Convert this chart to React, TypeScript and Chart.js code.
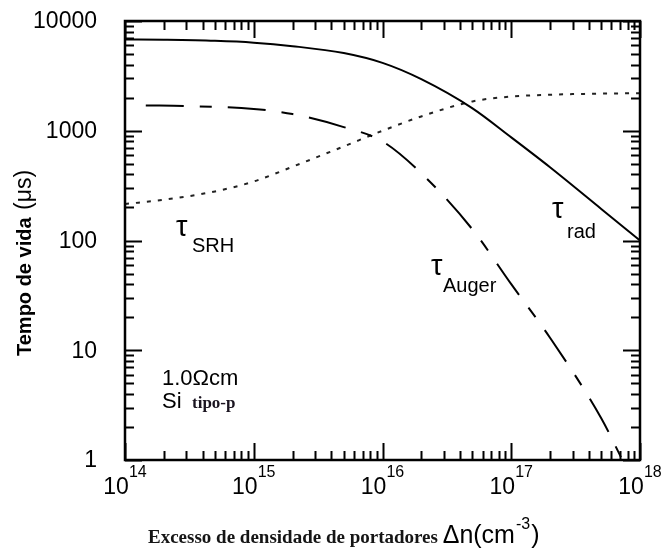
import React, { useEffect, useRef } from "react";
import { Chart, registerables } from "chart.js";

Chart.register(...registerables);

// ---- data ----
const radX = [1e14, 2e14, 5e14, 1e15, 2e15, 5e15, 1e16, 2e16, 5e16, 1e17, 2e17, 5e17, 1e18];
const radY = [6800, 6750, 6600, 6350, 5900, 5100, 4150, 2950, 1600, 870, 465, 194, 100];

const augerX = [1.45e14, 3e14, 1e15, 2e15, 5e15, 1e16, 2e16, 5e16, 1e17, 2e17, 5e17, 7.3e17];
const augerY = [1700, 1680, 1580, 1420, 1080, 800, 410, 126, 40, 13, 2.4, 1];

const srhX = [1e14, 2e14, 5e14, 1e15, 2e15, 5e15, 1e16, 2e16, 5e16, 1e17, 2e17, 5e17, 1e18];
const srhY = [215, 235, 280, 345, 470, 720, 1000, 1350, 1850, 2050, 2130, 2180, 2200];

const yTickValues = [1, 10, 100, 1000, 10000];
const yTickLabels = ["1", "10", "100", "1000", "10000"];
const xTickValues = [1e14, 1e15, 1e16, 1e17, 1e18];
const xTickBase = "10";
const xTickExponents = ["14", "15", "16", "17", "18"];
const minorMultipliers = [2, 3, 4, 5, 6, 7, 8, 9];

const yTitleBold = "Tempo de vida";
const yTitleUnit = "(\u03bcs)";
const xTitleBold = "Excesso de densidade de portadores";
const xTitleUnit = "\u0394n(cm";
const xTitleExp = "-3";
const xTitleClose = ")";

const labelSRH = "SRH";
const labelRad = "rad";
const labelAuger = "Auger";
const tau = "\u03c4";
const noteResist = "1.0\u03a9cm";
const noteSi = "Si";
const noteType = "tipo-p";

const SANS = '"Liberation Sans", Arial, Helvetica, sans-serif';
const SERIF = '"Liberation Serif", "Times New Roman", serif';

const decoPlugin = {
  id: "deco",
  afterDatasetsDraw(chart: any) {
    const ctx = chart.ctx as CanvasRenderingContext2D;
    const xs = chart.scales.x;
    const ys = chart.scales.y;
    const { left, right, top, bottom } = chart.chartArea;
    ctx.save();
    ctx.strokeStyle = "#000";
    ctx.fillStyle = "#000";

    // ticks (inside, mirrored on all sides)
    ctx.lineWidth = 2;
    const major = 17;
    const minor = 9;
    ctx.beginPath();
    for (let i = 0; i < xTickValues.length; i++) {
      const v = xTickValues[i];
      const px = Math.round(xs.getPixelForValue(v)) + 0.5;
      ctx.moveTo(px, bottom);
      ctx.lineTo(px, bottom - major);
      ctx.moveTo(px, top);
      ctx.lineTo(px, top + major);
      if (i < xTickValues.length - 1) {
        for (const m of minorMultipliers) {
          const q = Math.round(xs.getPixelForValue(v * m)) + 0.5;
          ctx.moveTo(q, bottom);
          ctx.lineTo(q, bottom - minor);
          ctx.moveTo(q, top);
          ctx.lineTo(q, top + minor);
        }
      }
    }
    for (let i = 0; i < yTickValues.length; i++) {
      const v = yTickValues[i];
      const py = Math.round(ys.getPixelForValue(v)) + 0.5;
      ctx.moveTo(left, py);
      ctx.lineTo(left + major, py);
      ctx.moveTo(right, py);
      ctx.lineTo(right - major, py);
      if (i < yTickValues.length - 1) {
        for (const m of minorMultipliers) {
          const q = Math.round(ys.getPixelForValue(v * m)) + 0.5;
          ctx.moveTo(left, q);
          ctx.lineTo(left + minor, q);
          ctx.moveTo(right, q);
          ctx.lineTo(right - minor, q);
        }
      }
    }
    ctx.stroke();

    // frame
    ctx.lineWidth = 2.5;
    ctx.strokeRect(left, top, right - left, bottom - top);

    // y tick labels
    ctx.font = `23px ${SANS}`;
    ctx.textAlign = "right";
    ctx.textBaseline = "middle";
    yTickValues.forEach((v, i) => {
      ctx.fillText(yTickLabels[i], left - 28, ys.getPixelForValue(v) + 1);
    });

    // x tick labels 10^n
    ctx.textAlign = "left";
    ctx.textBaseline = "alphabetic";
    xTickValues.forEach((v, i) => {
      ctx.font = `23px ${SANS}`;
      const wb = ctx.measureText(xTickBase).width;
      ctx.font = `16px ${SANS}`;
      const we = ctx.measureText(xTickExponents[i]).width;
      const x0 = xs.getPixelForValue(v) - (wb + we) / 2;
      ctx.font = `23px ${SANS}`;
      ctx.fillText(xTickBase, x0, 494);
      ctx.font = `16px ${SANS}`;
      ctx.fillText(xTickExponents[i], x0 + wb, 477);
    });

    // y title (rotated)
    ctx.save();
    ctx.translate(31, 356);
    ctx.rotate(-Math.PI / 2);
    ctx.font = `bold 20px ${SANS}`;
    ctx.fillText(yTitleBold, 0, 0);
    const wyb = ctx.measureText(yTitleBold + " ").width;
    ctx.font = `23px ${SANS}`;
    ctx.fillText(yTitleUnit, wyb + 2, 0);
    ctx.restore();

    // x title
    ctx.fillStyle = "#151515";
    ctx.font = `bold 19px ${SERIF}`;
    let cx = 148;
    ctx.fillText(xTitleBold, cx, 543);
    cx += ctx.measureText(xTitleBold + " ").width;
    ctx.fillStyle = "#000";
    ctx.font = `25px ${SANS}`;
    ctx.fillText(xTitleUnit, cx, 543);
    cx += ctx.measureText(xTitleUnit).width;
    ctx.font = `16px ${SANS}`;
    ctx.fillText(xTitleExp, cx + 1, 529);
    cx += ctx.measureText(xTitleExp).width + 2;
    ctx.font = `25px ${SANS}`;
    ctx.fillText(xTitleClose, cx, 543);

    // curve labels
    const tauFont = `29px ${SANS}`;
    const subFont = `20px ${SANS}`;
    ctx.font = tauFont;
    ctx.fillText(tau, 176, 236);
    ctx.font = subFont;
    ctx.fillText(labelSRH, 192, 252);

    ctx.font = tauFont;
    ctx.fillText(tau, 552, 218);
    ctx.font = subFont;
    ctx.fillText(labelRad, 567, 238);

    ctx.font = tauFont;
    ctx.fillText(tau, 431, 275);
    ctx.font = subFont;
    ctx.fillText(labelAuger, 443, 292);

    // notes
    ctx.font = `22px ${SANS}`;
    ctx.fillText(noteResist, 162, 385);
    ctx.fillText(noteSi, 162, 408);
    ctx.fillStyle = "#1a1420";
    ctx.font = `bold 17px ${SERIF}`;
    ctx.fillText(noteType, 192, 408);

    ctx.restore();
  },
};

function toPoints(xs: number[], ys: number[]) {
  return xs.map((x, i) => ({ x, y: ys[i] }));
}

export default function App() {
  const canvasRef = useRef<HTMLCanvasElement | null>(null);

  useEffect(() => {
    const canvas = canvasRef.current;
    if (!canvas) return;
    const chart = new Chart(canvas, {
      type: "scatter",
      data: {
        datasets: [
          {
            label: "tau_rad",
            data: toPoints(radX, radY),
            showLine: true,
            borderColor: "#000",
            borderWidth: 2,
            pointRadius: 0,
            cubicInterpolationMode: "monotone",
          },
          {
            label: "tau_Auger",
            data: toPoints(augerX, augerY),
            showLine: true,
            borderColor: "#000",
            borderWidth: 2,
            borderDash: [38, 16, 12, 16],
            pointRadius: 0,
            cubicInterpolationMode: "monotone",
          },
          {
            label: "tau_SRH",
            data: toPoints(srhX, srhY),
            showLine: true,
            borderColor: "#222",
            borderWidth: 2,
            borderDash: [4, 7],
            pointRadius: 0,
            cubicInterpolationMode: "monotone",
          },
        ],
      } as any,
      options: {
        responsive: false,
        animation: false,
        devicePixelRatio: 1,
        layout: { padding: { top: 21, right: 25, left: 0, bottom: 0 } },
        plugins: {
          legend: { display: false },
          tooltip: { enabled: false },
        },
        scales: {
          x: {
            type: "logarithmic",
            min: 1e14,
            max: 1e18,
            grid: { display: false },
            border: { display: false },
            ticks: { display: false },
            afterFit: (s: any) => {
              s.height = 98;
            },
          },
          y: {
            type: "logarithmic",
            min: 1,
            max: 10000,
            grid: { display: false },
            border: { display: false },
            ticks: { display: false },
            afterFit: (s: any) => {
              s.width = 125;
            },
          },
        },
      } as any,
      plugins: [decoPlugin],
    });
    return () => chart.destroy();
  }, []);

  return (
    <div style={{ position: "fixed", left: 0, top: 0, width: 665, height: 558, background: "#fff" }}>
      <canvas ref={canvasRef} width={665} height={558} style={{ width: 665, height: 558, display: "block" }} />
    </div>
  );
}
